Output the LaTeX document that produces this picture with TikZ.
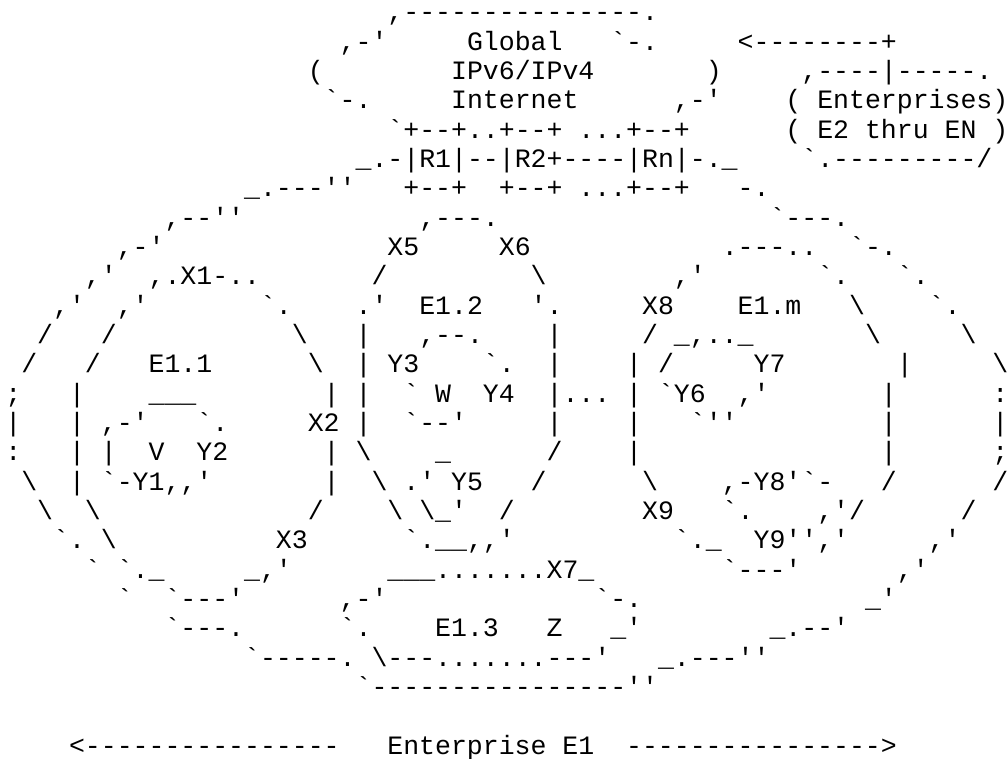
\documentclass[tikz,border=0pt]{standalone}
\usepackage{fontspec}
\newfontfamily\asciimono{Liberation Mono}
\newcommand{\asciifont}{\asciimono\fontsize{26.53}{29.35}\selectfont}
\newcommand{\bs}{\textbackslash}
\newcommand{\asc}[4]{\node[txt] (#1) at ({5.34+15.92*#2},{737-29.32*(#3-1)}) {#4};}
\begin{document}
\begin{tikzpicture}[x=1pt,y=1pt,
  txt/.style={anchor=base west,inner sep=0pt,outer sep=0pt,font=\asciifont}]
\useasboundingbox (0,0) rectangle (1008,758);
\fill[white] (0,0) rectangle (1008,758);
% line 1
\asc{a1}{24}{1}{,---------------.}
% line 2
\asc{b1}{21}{2}{,-'}
\asc{b2}{29}{2}{Global}
\asc{b3}{38}{2}{`-.}
\asc{b4}{46}{2}{<--------+}
% line 3
\asc{c1}{19}{3}{(}
\asc{c2}{28}{3}{IPv6/IPv4}
\asc{c3}{44}{3}{)}
\asc{c4}{50}{3}{,----|-----.}
% line 4
\asc{d1}{20}{4}{`-.}
\asc{d2}{28}{4}{Internet}
\asc{d3}{42}{4}{,-'}
\asc{d4}{49}{4}{(~Enterprises)}
% line 5
\asc{e1}{24}{5}{`+--+..+--+~...+--+}
\asc{e2}{49}{5}{(~E2~thru~EN~)}
% line 6
\asc{f1}{22}{6}{\_.-|R1|--|R2+----|Rn|-.\_}
\asc{f2}{50}{6}{`.---------/}
% line 7
\asc{g1}{15}{7}{\_.---''}
\asc{g2}{25}{7}{+--+~~+--+~...+--+}
\asc{g3}{46}{7}{-.}
% line 8
\asc{h1}{10}{8}{,--''}
\asc{h2}{26}{8}{,---.}
\asc{h3}{48}{8}{`---.}
% line 9
\asc{i1}{7}{9}{,-'}
\asc{i2}{24}{9}{X5}
\asc{i3}{31}{9}{X6}
\asc{i4}{45}{9}{.---..}
\asc{i5}{53}{9}{`-.}
% line 10
\asc{j1}{5}{10}{,'}
\asc{j2}{9}{10}{,.X1-..}
\asc{j3}{23}{10}{/}
\asc{j4}{33}{10}{\bs}
\asc{j5}{42}{10}{,'}
\asc{j6}{51}{10}{`.}
\asc{j7}{56}{10}{`.}
% line 11
\asc{k1}{3}{11}{,'}
\asc{k2}{7}{11}{,'}
\asc{k3}{16}{11}{`.}
\asc{k4}{22}{11}{.'}
\asc{k5}{26}{11}{E1.2}
\asc{k6}{33}{11}{'.}
\asc{k7}{40}{11}{X8}
\asc{k8}{46}{11}{E1.m}
\asc{k9}{53}{11}{\bs}
\asc{k10}{58}{11}{`.}
% line 12
\asc{l1}{2}{12}{/}
\asc{l2}{6}{12}{/}
\asc{l3}{18}{12}{\bs}
\asc{l4}{22}{12}{|}
\asc{l5}{26}{12}{,--.}
\asc{l6}{34}{12}{|}
\asc{l7}{40}{12}{/}
\asc{l8}{42}{12}{\_,..\_}
\asc{l9}{54}{12}{\bs}
\asc{l10}{60}{12}{\bs}
% line 13
\asc{m1}{1}{13}{/}
\asc{m2}{5}{13}{/}
\asc{m3}{9}{13}{E1.1}
\asc{m4}{19}{13}{\bs}
\asc{m5}{22}{13}{|}
\asc{m6}{24}{13}{Y3}
\asc{m7}{30}{13}{`.}
\asc{m8}{34}{13}{|}
\asc{m9}{39}{13}{|}
\asc{m10}{41}{13}{/}
\asc{m11}{47}{13}{Y7}
\asc{m12}{56}{13}{|}
\asc{m13}{62}{13}{\bs}
% line 14
\asc{n1}{0}{14}{;}
\asc{n2}{4}{14}{|}
\asc{n3}{9}{14}{\_\_\_}
\asc{n4}{20}{14}{|}
\asc{n5}{22}{14}{|}
\asc{n6}{25}{14}{`}
\asc{n7}{27}{14}{W}
\asc{n8}{30}{14}{Y4}
\asc{n9}{34}{14}{|...}
\asc{n10}{39}{14}{|}
\asc{n11}{41}{14}{`Y6}
\asc{n12}{46}{14}{,'}
\asc{n13}{55}{14}{|}
\asc{n14}{62}{14}{:}
% line 15
\asc{o1}{0}{15}{|}
\asc{o2}{4}{15}{|}
\asc{o3}{6}{15}{,-'}
\asc{o4}{12}{15}{`.}
\asc{o5}{19}{15}{X2}
\asc{o6}{22}{15}{|}
\asc{o7}{25}{15}{`--'}
\asc{o8}{34}{15}{|}
\asc{o9}{39}{15}{|}
\asc{o10}{43}{15}{`''}
\asc{o11}{55}{15}{|}
\asc{o12}{62}{15}{|}
% line 16
\asc{p1}{0}{16}{:}
\asc{p2}{4}{16}{|}
\asc{p3}{6}{16}{|}
\asc{p4}{9}{16}{V}
\asc{p5}{12}{16}{Y2}
\asc{p6}{20}{16}{|}
\asc{p7}{22}{16}{\bs}
\asc{p8}{27}{16}{\_}
\asc{p9}{34}{16}{/}
\asc{p10}{39}{16}{|}
\asc{p11}{55}{16}{|}
\asc{p12}{62}{16}{;}
% line 17
\asc{q1}{1}{17}{\bs}
\asc{q2}{4}{17}{|}
\asc{q3}{6}{17}{`-Y1,,'}
\asc{q4}{20}{17}{|}
\asc{q5}{23}{17}{\bs}
\asc{q6}{25}{17}{.'}
\asc{q7}{28}{17}{Y5}
\asc{q8}{33}{17}{/}
\asc{q9}{40}{17}{\bs}
\asc{q10}{45}{17}{,-Y8'`-}
\asc{q11}{55}{17}{/}
\asc{q12}{62}{17}{/}
% line 18
\asc{r1}{2}{18}{\bs}
\asc{r2}{5}{18}{\bs}
\asc{r3}{19}{18}{/}
\asc{r4}{24}{18}{\bs}
\asc{r5}{26}{18}{\bs\_'}
\asc{r6}{31}{18}{/}
\asc{r7}{40}{18}{X9}
\asc{r8}{45}{18}{`.}
\asc{r9}{51}{18}{,'/}
\asc{r10}{60}{18}{/}
% line 19
\asc{s1}{3}{19}{`.}
\asc{s2}{6}{19}{\bs}
\asc{s3}{17}{19}{X3}
\asc{s4}{25}{19}{`.\_\_,,'}
\asc{s5}{42}{19}{`.\_}
\asc{s6}{47}{19}{Y9'','}
\asc{s7}{58}{19}{,'}
% line 20
\asc{t1}{5}{20}{`}
\asc{t2}{7}{20}{`.\_}
\asc{t3}{15}{20}{\_,'}
\asc{t4}{24}{20}{\_\_\_.......X7\_}
\asc{t5}{45}{20}{`---'}
\asc{t6}{56}{20}{,'}
% line 21
\asc{u1}{7}{21}{`}
\asc{u2}{10}{21}{`---'}
\asc{u3}{21}{21}{,-'}
\asc{u4}{37}{21}{`-.}
\asc{u5}{54}{21}{\_'}
% line 22
\asc{v1}{10}{22}{`---.}
\asc{v2}{21}{22}{`.}
\asc{v3}{27}{22}{E1.3}
\asc{v4}{34}{22}{Z}
\asc{v5}{38}{22}{\_'}
\asc{v6}{48}{22}{\_.--'}
% line 23
\asc{w1}{15}{23}{`-----.}
\asc{w2}{23}{23}{\bs---.......---'}
\asc{w3}{41}{23}{\_.---''}
% line 24
\asc{x1}{22}{24}{`----------------''}
% line 26
\asc{z1}{4}{26}{<----------------~~~Enterprise~E1~~---------------->}
\end{tikzpicture}
\end{document}
